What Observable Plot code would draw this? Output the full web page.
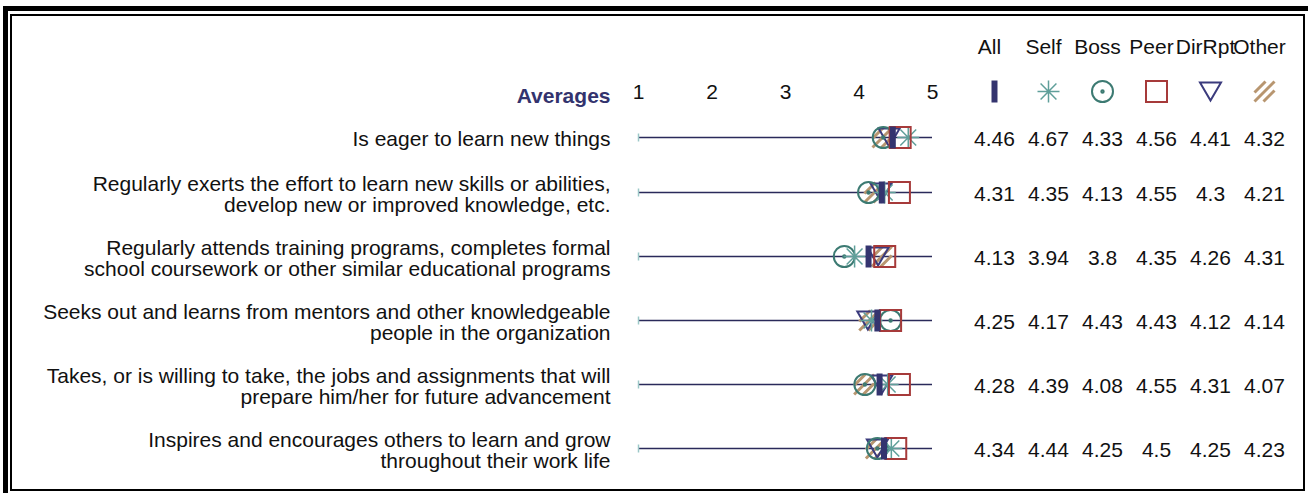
<!DOCTYPE html>
<html><head><meta charset="utf-8">
<script src="https://cdn.jsdelivr.net/npm/d3@7"></script>
<script src="https://cdn.jsdelivr.net/npm/@observablehq/plot@0.6"></script>
<style>
body{margin:0;background:#fff;}
#wrap{position:relative;width:1308px;height:493px;overflow:hidden;font-family:"Liberation Sans",Arial,sans-serif;}
.outer{position:absolute;left:3px;top:6px;width:1400px;height:600px;border-top:5px solid #000;border-left:5px solid #000;}
.inner{position:absolute;left:10px;top:14px;width:1295px;height:477px;border:2px solid #000;box-sizing:border-box;}
#a{position:absolute;left:0;top:0;}
#b{position:absolute;left:960px;top:0;}
</style></head>
<body><div id="wrap"><div class="outer"></div><div class="inner"></div><div id="a"></div><div id="b"></div></div>
<script>
const series = ["All", "Self", "Boss", "Peer", "DirRpt", "Other"];
const items = [
  "Is eager to learn new things",
  "Regularly exerts the effort to learn new skills or abilities,\ndevelop new or improved knowledge, etc.",
  "Regularly attends training programs, completes formal\nschool coursework or other similar educational programs",
  "Seeks out and learns from mentors and other knowledgeable\npeople in the organization",
  "Takes, or is willing to take, the jobs and assignments that will\nprepare him/her for future advancement",
  "Inspires and encourages others to learn and grow\nthroughout their work life"
];
const allVals    = [4.46, 4.31, 4.13, 4.25, 4.28, 4.34];
const selfVals   = [4.67, 4.35, 3.94, 4.17, 4.39, 4.44];
const bossVals   = [4.33, 4.13, 3.8, 4.43, 4.08, 4.25];
const peerVals   = [4.56, 4.55, 4.35, 4.43, 4.55, 4.5];
const dirRptVals = [4.41, 4.3, 4.26, 4.12, 4.31, 4.25];
const otherVals  = [4.32, 4.21, 4.31, 4.14, 4.07, 4.23];
const ticks = [1, 2, 3, 4, 5];
const headerLabel = "Averages";

const valuesBySeries = {All: allVals, Self: selfVals, Boss: bossVals, Peer: peerVals, DirRpt: dirRptVals, Other: otherVals};

// row layout from number of text lines
let acc = 0;
const rows = items.map((label, i) => {
  const h = label.split("\n").length === 1 ? 46 : 64;
  const pos = acc + h / 2;
  acc += h;
  return {label, pos, i};
});
const total = acc;

const R = (s) => Math.sqrt(s / Math.PI);
const sym = {
  bar: {draw(c, s) { const h = R(s); c.rect(-3, -h, 6, 2 * h); }},
  asterisk: {draw(c, s) { const h = R(s); const d = h * 0.72;
    c.moveTo(0, -h); c.lineTo(0, h); c.moveTo(-h, 0); c.lineTo(h, 0);
    c.moveTo(-d, -d); c.lineTo(d, d); c.moveTo(-d, d); c.lineTo(d, -d); }},
  target: {draw(c, s) { const h = R(s) - 0.5; c.moveTo(h, 0); c.arc(0, 0, h, 0, 2 * Math.PI);
    c.moveTo(1.2, 0); c.arc(0, 0, 1.2, 0, 2 * Math.PI); }},
  square: {draw(c, s) { const h = R(s) - 0.5; c.rect(-h, -h, 2 * h, 2 * h); }},
  tri: {draw(c, s) { const h = R(s) - 0.5; c.moveTo(-h, -h * 0.85); c.lineTo(h, -h * 0.85); c.lineTo(0, h * 0.85); c.closePath(); }},
  hatch: {draw(c, s) { const h = R(s) - 1;
    for (const k of [-0.9, 0, 0.9]) {
      const cc = k * h;
      if (cc <= 0) { c.moveTo(-h, cc + h); c.lineTo(cc + h, -h); }
      else { c.moveTo(cc - h, h); c.lineTo(h, cc - h); }
    } }},
  endTick: {draw(c, s) { const h = R(s); c.moveTo(0, -h); c.lineTo(0, h); }}
};
const style = {
  All:    {symbol: sym.bar, fill: "#34346f", stroke: "none", strokeWidth: 0},
  Self:   {symbol: sym.asterisk, fill: "none", stroke: "#5f9f9a", strokeWidth: 1.5},
  Boss:   {symbol: sym.target, fill: "none", stroke: "#3c7a72", strokeWidth: 2},
  Peer:   {symbol: sym.square, fill: "none", stroke: "#a63a3a", strokeWidth: 2},
  DirRpt: {symbol: sym.tri, fill: "none", stroke: "#3b3b7d", strokeWidth: 2},
  Other:  {symbol: sym.hatch, fill: "none", stroke: "#b89670", strokeWidth: 3}
};
const drawOrder = ["Other", "DirRpt", "Boss", "Self", "Peer", "All"];

const cells = rows.flatMap(r => series.map(s => ({s, pos: r.pos, v: valuesBySeries[s][r.i]})));

const font = {fontSize: "21px", fontFamily: "'Liberation Sans', Arial, sans-serif", background: "transparent", color: "#111", overflow: "visible"};

const main = Plot.plot({
  width: 960, height: 493,
  marginLeft: 638, marginRight: 28, marginTop: 114, marginBottom: 13,
  x: {domain: [d3.min(ticks), d3.max(ticks)]},
  y: {domain: [0, total], reverse: true, axis: null},
  style: font,
  marks: [
    Plot.axisX(ticks, {anchor: "top", tickSize: 0, tickPadding: 16, fontSize: 21, fill: "#111", tickFormat: d => String(d)}),
    Plot.ruleY(rows, {y: "pos", x1: d3.min(ticks), x2: d3.max(ticks), stroke: "#2a2a5a", strokeWidth: 1.5}),
    Plot.dot(rows, {y: "pos", x: d3.min(ticks), symbol: sym.endTick, r: 4, stroke: "#9cc8c8", strokeWidth: 1.5, fill: "none"}),
    ...drawOrder.map(s => Plot.dot(rows, {x: d => valuesBySeries[s][d.i], y: "pos", r: 11, ...style[s]})),
    Plot.text(rows, {y: "pos", text: "label", frameAnchor: "left", textAnchor: "end", lineAnchor: "middle", dx: -28, dy: 2, lineHeight: 1.0, fill: "#111"}),
    Plot.text([headerLabel], {frameAnchor: "top-left", text: d => d, textAnchor: "end", lineAnchor: "middle", dx: -28, dy: -18, fontWeight: "bold", fill: "#33336e"})
  ]
});
document.getElementById("a").appendChild(main);

const side = Plot.plot({
  width: 348, height: 493,
  marginLeft: 0, marginRight: 0, marginTop: 114, marginBottom: 13,
  x: {type: "point", domain: series, range: [32, 305], padding: 0, axis: null},
  y: {domain: [0, total], reverse: true, axis: null},
  style: font,
  marks: [
    Plot.text(series, {x: d => d, frameAnchor: "top", lineAnchor: "middle", dx: -5, dy: -67, text: d => d, fill: "#111"}),
    ...series.map(s => Plot.dot([s], {x: d => d, frameAnchor: "top", dy: -23, r: 11, ...style[s]})),
    Plot.text(cells, {x: "s", y: "pos", text: d => String(d.v), dy: 2, fill: "#111"})
  ]
});
document.getElementById("b").appendChild(side);
</script>
</body></html>
